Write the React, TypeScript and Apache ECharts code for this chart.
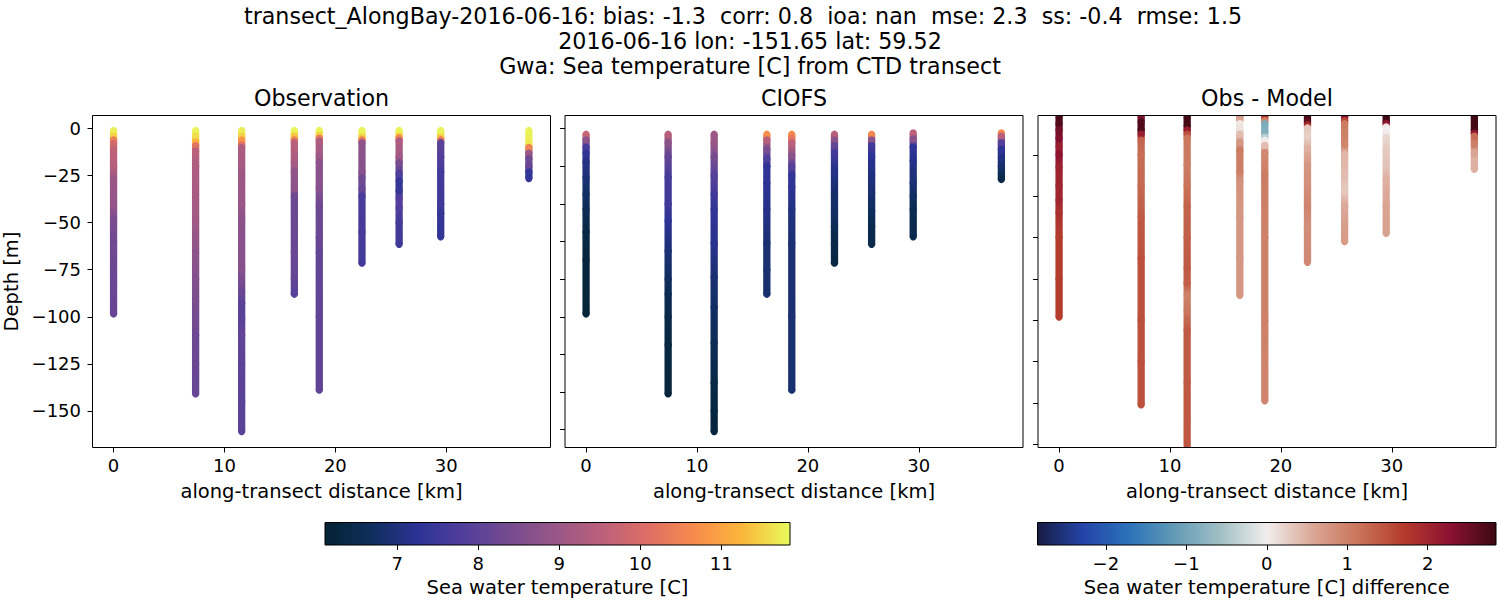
import React, { useEffect, useRef } from "react";
import * as echarts from "echarts";

const FONT = "DejaVu Sans";

// ---- titles ----
const titleLines = [
  "transect_AlongBay-2016-06-16: bias: -1.3  corr: 0.8  ioa: nan  mse: 2.3  ss: -0.4  rmse: 1.5",
  "2016-06-16 lon: -151.65 lat: 59.52",
  "Gwa: Sea temperature [C] from CTD transect",
];
const panelTitles = ["Observation", "CIOFS", "Obs - Model"];

// ---- stations (along-transect distance, km) ----
const stationKm = [0, 7.4, 11.55, 16.3, 18.55, 22.4, 25.75, 29.5, 37.45];

// ---- observed temperature profiles [depth m, temperature C] per station ----
const observationProfiles: number[][][] = [
  [[-1, 11.75], [-4, 11.5], [-6, 10.4], [-8, 9.9], [-11, 9.6], [-20, 9.4], [-27, 9.0], [-40, 8.9], [-48, 8.5], [-60, 8.3], [-80, 8.2], [-98.5, 8.15]],
  [[-1, 11.8], [-4, 11.6], [-7, 11.2], [-9, 10.2], [-12, 9.5], [-20, 9.3], [-35, 9.2], [-49, 9.1], [-66, 8.75], [-80, 8.6], [-92, 8.45], [-110, 8.25], [-125, 8.2], [-141, 8.15]],
  [[-1, 11.75], [-4, 11.5], [-6, 10.8], [-8.5, 10.2], [-10, 9.3], [-25, 9.05], [-40, 9.0], [-48, 8.75], [-75, 8.65], [-87, 8.2], [-93, 7.95], [-101, 7.95], [-110, 8.1], [-125, 8.0], [-145, 7.95], [-161, 7.95]],
  [[-1, 11.8], [-4, 11.4], [-6, 10.4], [-7.5, 9.5], [-18, 9.2], [-23, 8.85], [-32, 8.75], [-36, 8.25], [-66, 8.2], [-80, 8.1], [-88, 7.9]],
  [[-1, 11.8], [-3.5, 11.5], [-5, 10.4], [-6.5, 9.3], [-15, 9.05], [-18, 8.75], [-32, 8.65], [-41, 8.25], [-58, 8.2], [-66, 8.1], [-100, 8.05], [-139, 8.05]],
  [[-1, 11.8], [-4.5, 11.5], [-6, 10.4], [-7.5, 8.8], [-23, 8.65], [-26, 8.3], [-32, 8.15], [-36, 7.7], [-55, 7.65], [-71.5, 7.6]],
  [[-1, 11.8], [-4, 11.4], [-5, 10.5], [-6.5, 9.3], [-15, 9.1], [-18, 8.45], [-24, 7.8], [-28, 7.4], [-33, 7.4], [-37, 7.85], [-42, 7.85], [-50, 7.6], [-61.5, 7.55]],
  [[-1, 11.8], [-4.5, 11.5], [-6, 10.3], [-7.5, 8.0], [-15, 7.85], [-23, 7.6], [-40, 7.55], [-45, 7.4], [-57.5, 7.35]],
  [[-1, 11.8], [-8.5, 11.7], [-10, 10.5], [-13, 9.0], [-16, 8.3], [-20, 8.15], [-23, 7.4], [-26.5, 7.35]],
];

// ---- modelled (CIOFS) temperature profiles ----
const modelProfiles: number[][][] = [
  [[-3, 9.7], [-6, 8.75], [-10, 7.65], [-13, 7.3], [-18, 7.1], [-26, 6.95], [-35, 6.75], [-43, 6.6], [-55, 6.35], [-70, 6.25], [-98.5, 6.2]],
  [[-3, 9.45], [-7.5, 8.75], [-15, 8.1], [-26, 7.65], [-40, 7.55], [-49, 7.25], [-65, 6.95], [-80, 6.7], [-88, 6.55], [-100, 6.4], [-115, 6.3], [-141, 6.25]],
  [[-3, 9.05], [-8, 8.95], [-15, 8.4], [-25, 7.9], [-35, 7.55], [-43, 7.35], [-61, 7.2], [-79, 6.9], [-95, 6.75], [-114, 6.58], [-135, 6.4], [-150, 6.28], [-161, 6.25]],
  [[-3, 10.7], [-6, 9.45], [-11, 8.45], [-16, 7.8], [-20, 7.35], [-29, 7.3], [-43, 7.14], [-61, 6.9], [-75, 6.9], [-88, 6.88]],
  [[-3, 10.65], [-5, 10.3], [-7.5, 9.55], [-14.5, 8.7], [-20, 7.9], [-25, 7.35], [-31, 7.3], [-43, 7.06], [-61, 6.92], [-100, 6.9], [-139, 6.88]],
  [[-3, 9.45], [-6, 8.75], [-9, 8.1], [-13, 7.6], [-22, 7.14], [-34, 6.85], [-43, 6.8], [-52, 6.6], [-61, 6.42], [-71.5, 6.38]],
  [[-3, 10.6], [-6, 8.75], [-9, 7.6], [-15, 7.26], [-25, 7.05], [-34, 6.9], [-44, 6.65], [-52, 6.5], [-61.5, 6.45]],
  [[-2.3, 9.55], [-5.5, 8.7], [-10, 7.3], [-17, 7.14], [-29, 6.9], [-36, 6.7], [-43, 6.52], [-57.5, 6.48]],
  [[-2.3, 10.6], [-4, 9.45], [-7.5, 7.9], [-11, 7.3], [-15.5, 7.06], [-20, 6.85], [-24, 6.62], [-27, 6.45]],
];

// ---- difference (Obs - Model) profiles ----
const differenceProfiles: number[][][] = [
  [[-1.5, 2.75], [-5, 2.7], [-8, 2.45], [-12, 2.35], [-16, 2.1], [-20, 2.25], [-26, 2.05], [-35, 2.0], [-42, 2.0], [-48, 1.85], [-60, 1.7], [-80, 1.7], [-98.5, 1.7]],
  [[-1.5, 2.3], [-4, 2.7], [-8, 2.7], [-10, 2.1], [-13, 1.3], [-20, 1.2], [-35, 1.25], [-50, 1.4], [-70, 1.5], [-100, 1.5], [-120, 1.5], [-141, 1.5]],
  [[-1.5, 2.8], [-6, 2.78], [-8, 2.1], [-10, 1.5], [-12, 1.1], [-25, 1.05], [-35, 1.15], [-45, 1.3], [-60, 1.35], [-75, 1.4], [-82, 1.35], [-88, 1.0], [-95, 1.1], [-105, 1.4], [-130, 1.4], [-165, 1.45]],
  [[-1.5, 0.9], [-3, 0.6], [-5, 0.05], [-7, 0.1], [-10, 0.4], [-14, 0.75], [-18, 1.05], [-28, 1.0], [-33, 0.8], [-50, 0.75], [-70, 0.75], [-88, 0.75]],
  [[-1.5, 1.7], [-3.5, 1.0], [-5, -0.9], [-9, -0.85], [-11.5, -0.4], [-13, 0.0], [-15.5, 0.4], [-19, 0.9], [-30, 1.05], [-60, 1.0], [-100, 1.0], [-139, 0.95]],
  [[-1.5, 2.75], [-4, 2.6], [-5.5, 1.9], [-7, 0.3], [-11, 0.25], [-17, 0.5], [-25, 0.75], [-32, 0.8], [-45, 0.95], [-55, 0.85], [-72, 0.9]],
  [[-1.5, 2.3], [-3.5, 1.6], [-5, 1.05], [-10, 1.0], [-15, 0.95], [-20, 0.45], [-30, 0.4], [-37, 0.3], [-45, 0.55], [-53, 0.65], [-62, 0.7]],
  [[-1.5, 2.8], [-4, 2.78], [-5, 2.2], [-6.5, 0.05], [-8, 0.0], [-12, 0.2], [-18, 0.3], [-25, 0.35], [-32, 0.5], [-45, 0.6], [-58, 0.65]],
  [[-1.5, 2.8], [-8, 2.78], [-9.5, 2.2], [-11, 1.2], [-15, 1.0], [-19, 0.6], [-23, 0.5], [-27, 0.5]],
];

// ---- axis ranges and ticks ----
const distanceRange = [-1.9, 39.4];
const distanceTicks = [0, 10, 20, 30];
const depthRangeObs = [-169.5, 7.0];
const depthRangeDiff = [-161.6, -1.0];
const depthTicksObs = [0, -25, -50, -75, -100, -125, -150];
const depthTicksModel = [0, -20, -40, -60, -80, -100, -120, -140, -160];
const depthTicksDiff = [-20, -40, -60, -80, -100, -120, -140, -160];
const tempRange = [6.11, 11.85];
const tempTicks = [7, 8, 9, 10, 11];
const diffRange = [-2.85, 2.85];
const diffTicks = [-2, -1, 0, 1, 2];

// ---- colormaps ----
const thermalColors = ["#042333", "#0f2e5c", "#2c3395", "#523f9b", "#774c8f", "#9a5787", "#bd617a", "#df6f64", "#f78e4b", "#fbb83b", "#e8fa5b"];
const balanceColors = ["#181c43", "#2444a8", "#2b73b9", "#629bb5", "#a2c0c5", "#f1eeed", "#dba796", "#c9745a", "#b43b2c", "#8b1131", "#3c0912"];

const DOT_R = 3.65;

function buildColumnData(profiles: number[][][]) {
  const out: number[][] = [];
  profiles.forEach((prof, s) => {
    prof.forEach(([d, v]) => out.push([stationKm[s], d, v, s]));
  });
  return out;
}

function minusLabel(v: number) {
  return v < 0 ? "\u2212" + String(Math.abs(v)) : String(v);
}

function renderColumn(params: any, api: any) {
  const i = params.dataIndexInside;
  const x = api.value(0);
  const d = api.value(1);
  const s = api.value(3);
  const p = api.coord([x, d]);
  const c = api.visual("color");
  const children: any[] = [];
  if (i + 1 < params.dataInsideLength && api.value(3, i + 1) === s) {
    const p2 = api.coord([x, api.value(1, i + 1)]);
    const c2 = api.visual("color", i + 1);
    children.push({
      type: "rect",
      shape: { x: p[0] - DOT_R, y: p[1], width: DOT_R * 2, height: p2[1] - p[1] },
      style: {
        fill: new echarts.graphic.LinearGradient(0, 0, 0, 1, [
          { offset: 0, color: c },
          { offset: 1, color: c2 },
        ]),
      },
    });
  }
  children.push({ type: "circle", shape: { cx: p[0], cy: p[1], r: DOT_R }, style: { fill: c } });
  return { type: "group", children };
}

function colorbarRenderer(colors: string[]) {
  return (params: any, api: any) => {
    const p0 = api.coord([api.value(0), 0]);
    const p1 = api.coord([api.value(1), 1]);
    return {
      type: "rect",
      shape: { x: p0[0], y: p1[1], width: p1[0] - p0[0], height: p0[1] - p1[1] },
      style: {
        fill: new echarts.graphic.LinearGradient(
          0, 0, 1, 0,
          colors.map((col, k) => ({ offset: k / (colors.length - 1), color: col }))
        ),
        stroke: "#000",
        lineWidth: 1,
      },
    };
  };
}

const tickText = { color: "#000", fontSize: 18, fontFamily: FONT };
const nameText = { color: "#000", fontSize: 19.5, fontFamily: FONT };
const tickLine = { color: "#000", width: 1 };

function panelXAxis(gridIndex: number) {
  return {
    type: "value",
    gridIndex,
    position: "bottom",
    min: distanceRange[0],
    max: distanceRange[1],
    name: "along-transect distance [km]",
    nameLocation: "middle",
    nameGap: 34,
    nameTextStyle: nameText,
    axisLine: { show: false, onZero: false },
    axisTick: { show: true, inside: false, length: 5, customValues: distanceTicks, lineStyle: tickLine },
    axisLabel: { show: true, margin: 9, customValues: distanceTicks, ...tickText },
    splitLine: { show: false },
  };
}

function panelYAxis(gridIndex: number, range: number[], ticks: number[], showLabels: boolean) {
  return {
    type: "value",
    gridIndex,
    position: "left",
    min: range[0],
    max: range[1],
    name: showLabels ? "Depth [m]" : "",
    nameLocation: "middle",
    nameGap: 71,
    nameRotate: 90,
    nameTextStyle: nameText,
    axisLine: { show: false, onZero: false },
    axisTick: { show: true, inside: false, length: 5, customValues: ticks, lineStyle: tickLine },
    axisLabel: { show: showLabels, margin: 11.5, customValues: ticks, formatter: minusLabel, ...tickText },
    splitLine: { show: false },
  };
}

function colorbarXAxis(gridIndex: number, range: number[], ticks: number[], name: string) {
  return {
    type: "value",
    gridIndex,
    position: "bottom",
    min: range[0],
    max: range[1],
    name,
    nameLocation: "middle",
    nameGap: 32,
    nameTextStyle: nameText,
    axisLine: { show: false, onZero: false },
    axisTick: { show: true, inside: false, length: 5, customValues: ticks, lineStyle: tickLine },
    axisLabel: { show: true, margin: 9, customValues: ticks, formatter: minusLabel, ...tickText },
    splitLine: { show: false },
    z: 10,
  };
}

const panelGrid = { show: true, borderColor: "#000", borderWidth: 1, backgroundColor: "transparent", z: 10, outerBoundsMode: "none", containLabel: false };

export default function App() {
  const ref = useRef<HTMLDivElement>(null);
  useEffect(() => {
    document.body.style.margin = "0";
    if (!ref.current) return;
    const chart = echarts.init(ref.current, null, { renderer: "svg" });
    const textEl = (text: string, x: number, y: number) => ({
      type: "text",
      x,
      y,
      silent: true,
      style: { text, fill: "#000", fontSize: 22.2, fontFamily: FONT, align: "center", verticalAlign: "middle" },
    });
    const option: any = {
      animation: false,
      backgroundColor: "#fff",
      textStyle: { fontFamily: FONT },
      grid: [
        { ...panelGrid, left: 92.5, top: 115.5, width: 458, height: 332 },
        { ...panelGrid, left: 565, top: 115.5, width: 458, height: 332 },
        { ...panelGrid, left: 1038, top: 115.5, width: 458, height: 332 },
        { show: false, left: 325, top: 522.5, width: 465, height: 22.5, outerBoundsMode: "none", containLabel: false },
        { show: false, left: 1037.5, top: 522.5, width: 458.5, height: 22.5, outerBoundsMode: "none", containLabel: false },
      ],
      xAxis: [
        panelXAxis(0),
        panelXAxis(1),
        panelXAxis(2),
        colorbarXAxis(3, tempRange, tempTicks, "Sea water temperature [C]"),
        colorbarXAxis(4, diffRange, diffTicks, "Sea water temperature [C] difference"),
      ],
      yAxis: [
        panelYAxis(0, depthRangeObs, depthTicksObs, true),
        panelYAxis(1, depthRangeObs, depthTicksModel, false),
        panelYAxis(2, depthRangeDiff, depthTicksDiff, false),
        { type: "value", gridIndex: 3, min: 0, max: 1, show: false },
        { type: "value", gridIndex: 4, min: 0, max: 1, show: false },
      ],
      visualMap: [
        { type: "continuous", show: false, seriesIndex: [0, 1], dimension: 2, min: tempRange[0], max: tempRange[1], inRange: { color: thermalColors } },
        { type: "continuous", show: false, seriesIndex: [2], dimension: 2, min: diffRange[0], max: diffRange[1], inRange: { color: balanceColors } },
      ],
      series: [
        { type: "custom", name: "Observation", xAxisIndex: 0, yAxisIndex: 0, clip: true, renderItem: renderColumn, dimensions: ["km", "depth", "temp", "station"], encode: { x: 0, y: 1 }, data: buildColumnData(observationProfiles) },
        { type: "custom", name: "CIOFS", xAxisIndex: 1, yAxisIndex: 1, clip: true, renderItem: renderColumn, dimensions: ["km", "depth", "temp", "station"], encode: { x: 0, y: 1 }, data: buildColumnData(modelProfiles) },
        { type: "custom", name: "Obs - Model", xAxisIndex: 2, yAxisIndex: 2, clip: true, renderItem: renderColumn, dimensions: ["km", "depth", "diff", "station"], encode: { x: 0, y: 1 }, data: buildColumnData(differenceProfiles) },
        { type: "custom", xAxisIndex: 3, yAxisIndex: 3, z: 1, renderItem: colorbarRenderer(thermalColors), encode: { x: [0, 1] }, data: [tempRange] },
        { type: "custom", xAxisIndex: 4, yAxisIndex: 4, z: 1, renderItem: colorbarRenderer(balanceColors), encode: { x: [0, 1] }, data: [diffRange] },
      ],
      graphic: [
        textEl(titleLines[0], 743, 15.5),
        textEl(titleLines[1], 750, 40.5),
        textEl(titleLines[2], 750, 66),
        textEl(panelTitles[0], 321.5, 98),
        textEl(panelTitles[1], 794, 98),
        textEl(panelTitles[2], 1267, 98),
      ],
    };
    chart.setOption(option);
    return () => chart.dispose();
  }, []);
  return <div ref={ref} style={{ width: 1500, height: 600 }} />;
}
